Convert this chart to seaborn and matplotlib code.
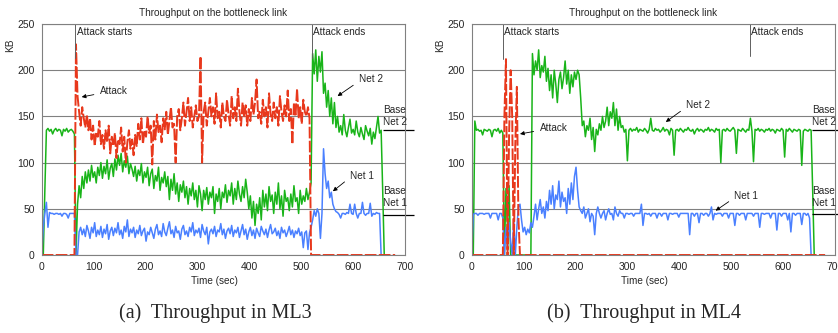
import numpy as np
import matplotlib
matplotlib.use("Agg")
import matplotlib.pyplot as plt
import seaborn as sns

sample_step = 3  # seconds between samples

# ---- ML3 (left panel), KB per sample ----
ml3_net2 = [
    0, 0, 70, 135, 137, 134, 136, 131, 135, 137,
    134, 136, 135, 129, 136, 134, 137, 133, 135, 136,
    134, 131, 0, 55, 75, 62, 85, 72, 90, 78,
    92, 80, 97, 84, 90, 78, 95, 86, 100, 83,
    96, 88, 103, 82, 94, 99, 85, 104, 92, 108,
    97, 110, 90, 102, 95, 107, 88, 99, 93, 85,
    96, 80, 92, 86, 99, 78, 90, 84, 95, 75,
    88, 93, 72, 86, 80, 95, 70, 84, 78, 90,
    74, 85, 60, 82, 70, 88, 66, 78, 58, 76,
    68, 80, 62, 74, 55, 72, 64, 78, 60, 70,
    52, 75, 66, 48, 70, 60, 73, 55, 68, 62,
    74, 45, 66, 58, 72, 50, 68, 62, 76, 57,
    70, 64, 78, 55, 72, 60, 80, 66, 58, 74,
    62, 82, 68, 50, 64, 40, 58, 32, 55, 45,
    62, 38, 70, 52, 66, 48, 74, 58, 65, 45,
    68, 55, 78, 50, 64, 42, 70, 58, 62, 48,
    66, 52, 75, 58, 62, 45, 70, 55, 64, 58,
    72, 60, 68, 78, 218, 196, 222, 188, 215, 198,
    220, 175, 186, 160, 178, 150, 170, 142, 165, 138,
    150, 133, 140, 130, 152, 135, 128, 138, 147, 132,
    136, 130, 145, 133, 128, 138, 131, 125, 140, 134,
    129, 137, 120, 133, 126, 138, 150, 132, 135, 70, 0,
]
ml3_net1 = [
    0, 30, 45, 57, 30, 46, 45, 45, 44, 45,
    45, 44, 45, 42, 45, 45, 44, 40, 45, 45,
    45, 45, 0, 0, 25, 30, 22, 28, 20, 32,
    26, 18, 30, 24, 35, 20, 27, 22, 31, 19,
    28, 23, 33, 17, 26, 30, 21, 29, 24, 35,
    22, 27, 18, 31, 25, 38, 20, 28, 24, 30,
    19, 27, 23, 32, 21, 26, 29, 15, 25, 22,
    30, 24, 18, 28, 33, 22, 26, 20, 34, 25,
    21, 29, 36, 23, 27, 19, 31, 24, 26, 17,
    28, 32, 22, 26, 20, 30, 25, 35, 21, 27,
    24, 29, 19, 33, 26, 22, 30, 12, 25, 28,
    23, 31, 20, 27, 25, 34, 22, 28, 18, 26,
    29, 23, 32, 20, 27, 24, 30, 19, 26, 33,
    22, 28, 17, 25, 30, 21, 27, 18, 29, 24,
    20, 31, 26, 22, 28, 19, 27, 33, 23, 25,
    29, 21, 26, 18, 30, 24, 27, 20, 25, 31,
    22, 27, 19, 26, 23, 29, 21, 25, 8, 24,
    26, 6, 24, 30, 38, 48, 42, 50, 45, 18,
    45, 115, 88, 72, 80, 62, 68, 55, 50, 47,
    46, 44, 40, 45, 45, 44, 46, 45, 55, 45,
    44, 55, 45, 40, 45, 45, 57, 45, 43, 45,
    45, 56, 42, 45, 44, 46, 45, 45, 0,
]
ml3_attack = [0] * 22 + [
    228, 172, 155, 140, 160, 148, 138, 152,
    135, 148, 125, 140, 118, 133, 128, 145, 120, 130,
    115, 135, 122, 140, 110, 128, 118, 132, 105, 125,
    120, 138, 112, 128, 100, 122, 135, 115, 125, 108,
    130, 118, 142, 125, 148, 120, 135, 128, 150, 132,
    140, 98, 145, 125, 152, 133, 140, 122, 148, 136,
    155, 130, 145, 160, 138, 142, 100, 150, 158, 135,
    148, 165, 140, 155, 170, 145, 160, 138, 150, 162,
    145, 150, 215, 100, 155, 165, 140, 155, 170, 150,
    160, 142, 175, 148, 155, 138, 165, 150, 145, 168,
    152, 140, 172, 148, 160, 145, 180, 155, 140, 165,
    150, 162, 140, 158, 145, 170, 152, 165, 190, 148,
    155, 142, 168, 150, 160, 138, 175, 152, 145, 165,
    148, 160, 140, 172, 155, 145, 162, 150, 178, 145,
    158, 120, 165, 150, 180, 148, 160, 142, 168, 155,
    150, 160, 148,
] + [0] * 55

# ---- ML4 (right panel), KB per sample ----
ml4_net2 = [
    0, 0, 145, 135, 136, 134, 135, 130, 136, 135,
    134, 136, 135, 128, 135, 136, 134, 137, 132, 135,
    132, 0, 72, 30, 75, 0, 0, 0, 0, 0,
    0, 0, 0, 0, 0, 0, 0, 0, 0, 218,
    195, 210, 200, 222, 192, 205, 198, 215, 188, 202,
    178, 195, 170, 200, 185, 165, 190, 198, 180, 192,
    210, 185, 200, 175, 195, 182, 198, 190, 200, 195,
    170, 140, 145, 128, 140, 135, 148, 125, 138, 112,
    136, 130, 142, 135, 150, 138, 145, 160, 140, 155,
    148, 165, 140, 158, 135, 150, 138, 140, 133, 136,
    102, 135, 137, 134, 136, 135, 138, 133, 136, 135,
    134, 137, 135, 132, 136, 148, 135, 134, 137, 135,
    136, 133, 135, 138, 134, 136, 135, 130, 137, 135,
    108, 135, 136, 134, 137, 135, 133, 136, 135, 138,
    135, 134, 136, 131, 135, 137, 134, 136, 135, 133,
    136, 135, 138, 134, 136, 135, 133, 137, 135, 136,
    100, 135, 136, 134, 137, 135, 134, 136, 138, 135,
    110, 136, 135, 134, 137, 135, 133, 136, 135, 148,
    134, 101, 136, 135, 137, 134, 136, 135, 133, 136,
    135, 137, 134, 136, 135, 132, 136, 135, 134, 137,
    135, 106, 136, 134, 137, 135, 133, 136, 135, 134,
    136, 135, 97, 134, 136, 135, 134, 136, 135, 70, 0,
]
ml4_net1 = [
    0, 44, 45, 45, 43, 45, 45, 45, 44, 45,
    45, 45, 40, 45, 45, 45, 45, 38, 45, 45,
    40, 0, 30, 5, 35, 15, 0, 38, 0, 30,
    52, 55, 38, 25, 30, 22, 28, 24, 35, 30,
    42, 55, 38, 50, 60, 45, 52, 40, 58, 48,
    70, 55, 75, 50, 65, 60, 80, 52, 68, 58,
    62, 45, 72, 55, 78, 60, 85, 95, 70, 52,
    48, 45, 52, 40, 45, 50, 36, 45, 42, 22,
    45, 52, 45, 40, 45, 48, 38, 45, 50, 44,
    45, 38, 52, 45, 42, 48, 45, 45, 40, 45,
    45, 44, 45, 45, 42, 45, 45, 45, 45, 55,
    32, 45, 45, 44, 45, 42, 45, 45, 45, 40,
    45, 45, 42, 45, 45, 45, 38, 45, 45, 44,
    45, 45, 45, 41, 45, 45, 45, 45, 45, 45,
    22, 45, 45, 42, 45, 45, 35, 45, 45, 43,
    45, 45, 42, 45, 52, 38, 45, 44, 45, 45,
    45, 42, 45, 45, 45, 40, 45, 45, 45, 32,
    45, 45, 43, 45, 45, 45, 38, 45, 45, 45,
    45, 42, 45, 45, 45, 30, 45, 45, 44, 45,
    45, 45, 40, 45, 45, 45, 27, 45, 45, 42,
    45, 45, 45, 38, 45, 25, 45, 45, 43, 45,
    45, 45, 33, 45, 45, 43, 45, 40, 0,
]
ml4_attack = [0] * 21 + [150, 212, 0, 130, 200, 150, 0, 120, 182, 40] + [0] * 197

base_net2 = 135
base_net1 = 43

c_net2 = "#19B419"
c_net1 = "#4A80FF"
c_attack = "#E8381C"
c_frame = "#808080"


def draw_panel(ax, net2, net1, attack, start, end, notes):
    for vals, col, ls, lw in [(net2, c_net2, "-", 1.1),
                              (net1, c_net1, "-", 1.1),
                              (attack, c_attack, (0, (6, 1.2)), 1.4)]:
        t = np.arange(len(vals)) * sample_step
        sns.lineplot(x=t, y=vals, ax=ax, color=col, linestyle=ls, lw=lw)

    ax.set_xlim(0, 700)
    ax.set_ylim(0, 250)
    ax.set_xticks(range(0, 701, 100))
    ax.set_yticks(range(0, 251, 50))
    ax.yaxis.grid(True, color=c_frame, lw=0.8)
    ax.xaxis.grid(False)
    ax.set_axisbelow(True)
    for s in ax.spines.values():
        s.set_color(c_frame)
        s.set_linewidth(0.8)
    ax.tick_params(length=3, width=0.6, color=c_frame, labelsize=7.5, pad=2)

    ax.set_xlabel("Time (sec)", fontsize=7.2)
    ax.xaxis.set_label_coords(0.476, -0.09)
    ax.set_ylabel("KB", fontsize=7.2)
    ax.yaxis.set_label_coords(-0.072, 0.91)

    # attack start / end markers
    ax.plot([start[0], start[0]], [start[1], 250], color="#606060", lw=0.7)
    ax.text(start[0] + 3, 241, "Attack starts", fontsize=7.2, va="center")
    ax.plot([end[0], end[0]], [end[1], 250], color="#606060", lw=0.7)
    ax.text(end[0] + 3, 241, "Attack ends", fontsize=7.2, va="center")

    for label, txt_xy, head_xy in notes["arrows"]:
        ax.annotate(label, xy=head_xy, xytext=txt_xy, fontsize=7.2,
                    ha="left", va="center",
                    arrowprops=dict(arrowstyle="-|>", color="black", lw=0.6,
                                    mutation_scale=6, shrinkA=2, shrinkB=0,
                                    relpos=(0, 0.3)))

    bx = notes["base_x"]
    for base, y_top, y_bot in [(base_net2, 157, 144), (notes["base1"], 69, 56)]:
        ax.text(bx, y_top, "Base", fontsize=7.2, va="center")
        ax.text(bx, y_bot, "Net " + ("2" if base == base_net2 else "1"),
                fontsize=7.2, va="center")
        ax.hlines(base, bx, bx + 60, color="black", lw=0.9, clip_on=False)


sns.set_style("white")
plt.rcParams["font.family"] = ["Liberation Sans", "DejaVu Sans"]

fig = plt.figure(figsize=(8.38, 3.33), dpi=100)
ax1 = fig.add_axes([0.0498, 0.2342, 0.4335, 0.6937])
ax2 = fig.add_axes([0.5629, 0.2342, 0.4335, 0.6937])

draw_panel(ax1, ml3_net2, ml3_net1, ml3_attack, (65, 213), (520, 213),
           {"arrows": [("Attack", (112, 177), (77, 171)),
                       ("Net 2", (611, 190), (570, 172)),
                       ("Net 1", (594, 86), (561, 69))],
            "base_x": 658, "base1": base_net1})
draw_panel(ax2, ml4_net2, ml4_net1, ml4_attack, (60, 212), (536, 215),
           {"arrows": [("Attack", (131, 137), (93, 131)),
                       ("Net 2", (413, 162), (374, 144)),
                       ("Net 1", (506, 64), (470, 48))],
            "base_x": 656, "base1": 44})

fig.text(0.2548, 0.962, "Throughput on the bottleneck link", fontsize=7.2,
         ha="center", va="center")
fig.text(0.767, 0.962, "Throughput on the bottleneck link", fontsize=7.2,
         ha="center", va="center")
fig.text(0.257, 0.06, "(a)  Throughput in ML3", fontsize=14.5,
         family="Liberation Serif", ha="center", va="center")
fig.text(0.768, 0.06, "(b)  Throughput in ML4", fontsize=14.5,
         family="Liberation Serif", ha="center", va="center")

fig.savefig("out.png", dpi=100)
